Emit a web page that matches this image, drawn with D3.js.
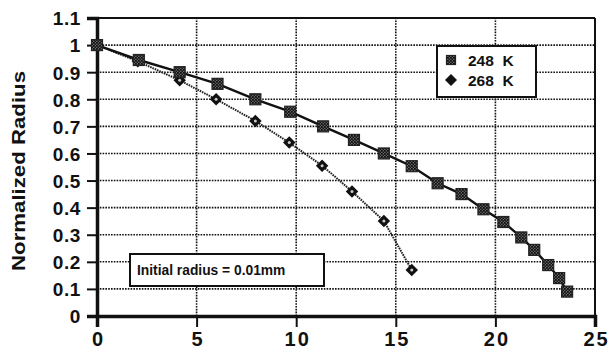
<!DOCTYPE html>
<html><head><meta charset="utf-8">
<script src="https://cdn.jsdelivr.net/npm/d3@7"></script>
<style>body{margin:0;background:#fff}svg{display:block}</style>
</head><body>
<script>
const x248 = [0, 2.1, 4.15, 6.05, 7.95, 9.7, 11.35, 12.9, 14.4, 15.8, 17.1, 18.3, 19.4, 20.4, 21.3, 21.95, 22.65, 23.2, 23.6];
const y248 = [1.0, 0.945, 0.9, 0.857, 0.80, 0.754, 0.70, 0.65, 0.60, 0.553, 0.49, 0.45, 0.394, 0.347, 0.29, 0.244, 0.188, 0.14, 0.09];
const x268 = [0, 2.05, 4.15, 5.98, 7.95, 9.65, 11.3, 12.8, 14.4, 15.8];
const y268 = [1.0, 0.94, 0.87, 0.80, 0.72, 0.64, 0.555, 0.46, 0.351, 0.17];
const xTicks = [0, 5, 10, 15, 20, 25];
const yTicks = [0, 0.1, 0.2, 0.3, 0.4, 0.5, 0.6, 0.7, 0.8, 0.9, 1, 1.1];
const yTickLabels = ["0","0.1","0.2","0.3","0.4","0.5","0.6","0.7","0.8","0.9","1","1.1"];
const seriesNames = ["248  K", "268  K"];
const yTitle = "Normalized Radius";
const note = "Initial radius = 0.01mm";

const W = 613, H = 354;
const svg = d3.select("body").append("svg").attr("width", W).attr("height", H);
const x = d3.scaleLinear().domain([0, 25]).range([97, 595]);
const y = d3.scaleLinear().domain([0, 1.1]).range([316, 18]);

const defs = svg.append("defs");
const pat = defs.append("pattern").attr("id","chk").attr("width",3).attr("height",3).attr("patternUnits","userSpaceOnUse");
pat.append("rect").attr("width",3).attr("height",3).attr("fill","#666");
pat.append("rect").attr("width",1.8).attr("height",1.8).attr("fill","#111");
pat.append("rect").attr("x",1.5).attr("y",1.5).attr("width",1.5).attr("height",1.5).attr("fill","#111");

const font = "'Liberation Sans', Arial, Helvetica, sans-serif";

// grid
const g = svg.append("g");
g.selectAll(".hg").data(yTicks.filter(v => v > 0 && v < 1.05)).enter().append("line")
  .attr("x1", x(0)).attr("x2", x(25)).attr("y1", d => y(d)).attr("y2", d => y(d))
  .attr("stroke", "#111").attr("stroke-width", 1.6).attr("stroke-dasharray", "1.6,1.2");
g.selectAll(".vg").data(xTicks.filter(v => v > 0 && v < 25)).enter().append("line")
  .attr("y1", y(0)).attr("y2", y(1.1)).attr("x1", d => x(d)).attr("x2", d => x(d))
  .attr("stroke", "#111").attr("stroke-width", 1.6).attr("stroke-dasharray", "1.6,1.2");

// frame top/right
svg.append("line").attr("x1", x(0)).attr("x2", x(25)).attr("y1", y(1.1)).attr("y2", y(1.1)).attr("stroke","#111").attr("stroke-width",2);
svg.append("line").attr("x1", x(25)).attr("x2", x(25)).attr("y1", y(1.1)).attr("y2", y(0)).attr("stroke","#111").attr("stroke-width",2);

// axes
const yAxis = d3.axisLeft(y).tickValues(yTicks).tickFormat((d,i) => yTickLabels[i]).tickSize(10).tickPadding(6);
const ya = svg.append("g").attr("transform", `translate(${x(0)},0)`).call(yAxis);
ya.select(".domain").attr("stroke","#111").attr("stroke-width",3.5);
ya.selectAll(".tick line").attr("stroke","#111").attr("stroke-width",2);
ya.selectAll("text").attr("font-family", font).attr("font-weight","bold").attr("font-size",19).attr("fill","#111").attr("dy","0.36em").attr("letter-spacing", 0.6);

const xAxis = d3.axisBottom(x).tickValues(xTicks).tickFormat(d3.format("d")).tickSize(11).tickPadding(5);
const xa = svg.append("g").attr("transform", `translate(0,${y(0)})`).call(xAxis);
xa.select(".domain").attr("stroke","#111").attr("stroke-width",3.5);
xa.selectAll(".tick line").attr("stroke","#111").attr("stroke-width",2);
xa.selectAll("text").attr("font-family", font).attr("font-weight","bold").attr("font-size",20).attr("fill","#111").attr("letter-spacing", 2).attr("dx", 1);

// y title
svg.append("text").attr("transform", `translate(25,${(y(0)+y(1.1))/2 + 4}) rotate(-90)`)
  .attr("text-anchor","middle").attr("font-family", font).attr("font-weight","bold").attr("font-size",18)
  .attr("textLength", 200).attr("lengthAdjust","spacingAndGlyphs")
  .attr("fill","#111").text(yTitle);

// lines
const d248 = x248.map((v,i) => [v, y248[i]]);
const d268 = x268.map((v,i) => [v, y268[i]]);
const line = d3.line().x(d => x(d[0])).y(d => y(d[1]));
svg.append("path").datum(d268).attr("d", line).attr("fill","none").attr("stroke","#222").attr("stroke-width",2).attr("stroke-dasharray","1.6,0.9");
svg.append("path").datum(d248).attr("d", line).attr("fill","none").attr("stroke","#111").attr("stroke-width",2.4);

// markers
function sq(sel, cx, cy, s) {
  sel.append("rect").attr("x", cx - s/2).attr("y", cy - s/2).attr("width", s).attr("height", s)
    .attr("fill","url(#chk)").attr("stroke","#222").attr("stroke-width",1.2);
}
function dia(sel, cx, cy, s, hollow) {
  sel.append("path").attr("d", `M${cx},${cy-s/2}L${cx+s/2},${cy}L${cx},${cy+s/2}L${cx-s/2},${cy}Z`).attr("fill","#111");
  if (hollow) sel.append("circle").attr("cx",cx).attr("cy",cy).attr("r",1.5).attr("fill","#ccc");
}
const mk = svg.append("g");
d268.forEach(d => dia(mk, x(d[0]), y(d[1]), 12.5, true));
d248.forEach(d => sq(mk, x(d[0]), y(d[1]), 11));

// legend
const lg = svg.append("g");
lg.append("rect").attr("x",437).attr("y",46).attr("width",99).attr("height",51).attr("fill","#fff").attr("stroke","#111").attr("stroke-width",2);
sq(lg, 451, 60, 9);
dia(lg, 451, 80, 12, false);
lg.selectAll(".lt").data(seriesNames).enter().append("text")
  .attr("x", 468).attr("y", (d,i) => 66 + i*20).attr("font-family", font).attr("font-weight","bold")
  .attr("font-size",15.5).attr("fill","#111").attr("xml:space","preserve").style("white-space","pre").text(d => d);

// note box
svg.append("rect").attr("x",130).attr("y",254).attr("width",194).attr("height",32).attr("fill","#fff").attr("stroke","#111").attr("stroke-width",2);
svg.append("text").attr("x",137).attr("y",275).attr("font-family", font).attr("font-weight","bold").attr("font-size",13.8).attr("fill","#111").text(note);
</script>
</body></html>
